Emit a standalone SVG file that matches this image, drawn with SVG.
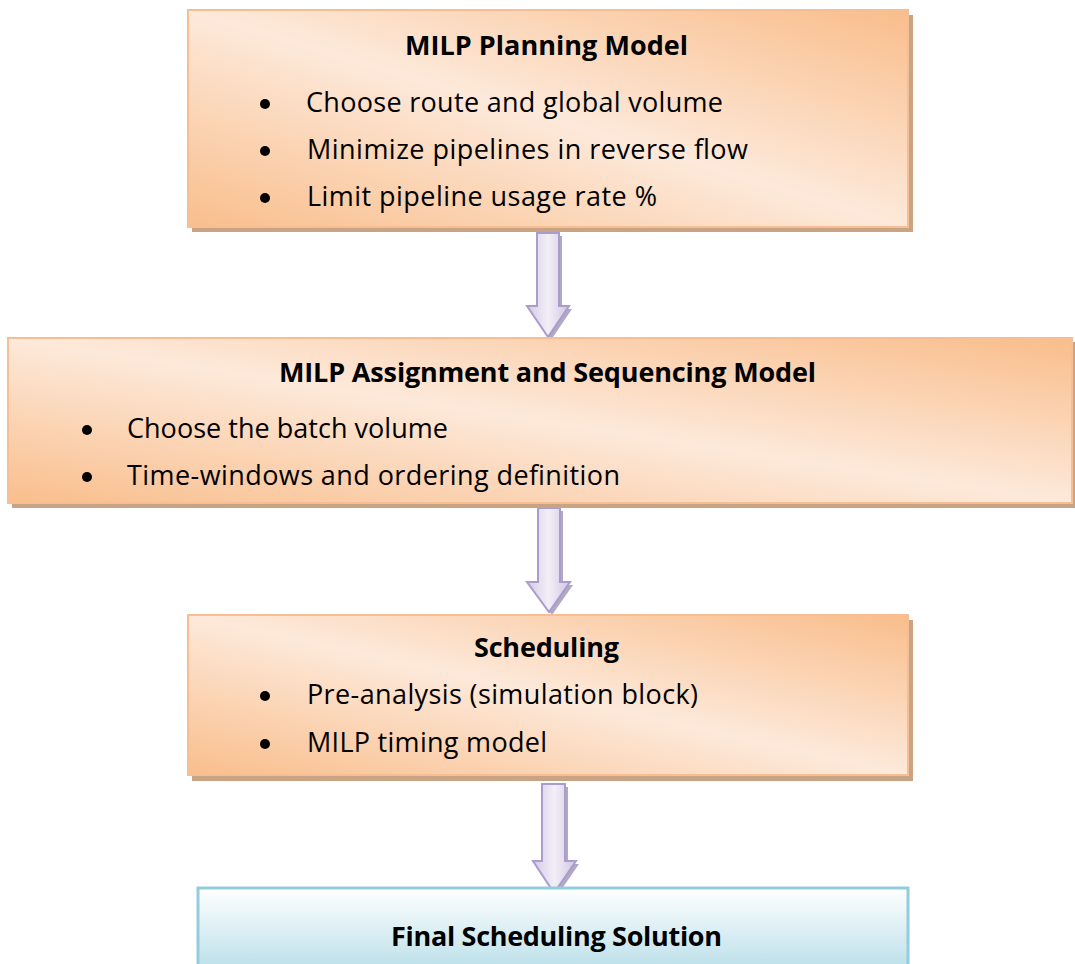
<svg xmlns="http://www.w3.org/2000/svg" width="1075" height="964" viewBox="0 0 1075 964">
  <defs>
    <linearGradient id="orange" x1="1" y1="0" x2="0" y2="1">
      <stop offset="0" stop-color="#F9BD8B"/>
      <stop offset="0.5" stop-color="#FDE9DA"/>
      <stop offset="1" stop-color="#F9BE8C"/>
    </linearGradient>
    <linearGradient id="cyan" x1="0" y1="0" x2="0" y2="1">
      <stop offset="0" stop-color="#FFFFFF"/>
      <stop offset="1" stop-color="#B4DCE7"/>
    </linearGradient>
    <linearGradient id="lav" x1="0" y1="0" x2="1" y2="0">
      <stop offset="0" stop-color="#D3CAE4"/>
      <stop offset="0.5" stop-color="#F2EFF7"/>
      <stop offset="1" stop-color="#D0C6E2"/>
    </linearGradient>
    <style>
      .box { fill: url(#orange); stroke: #F7BE93; stroke-width: 2; }
      .shadow { fill: #C8A384; }
      .final { fill: url(#cyan); stroke: #93CDDD; stroke-width: 3; }
      .title { font-family: "Open Sans", "Liberation Sans", sans-serif; font-weight: bold; font-size: 27px; fill: #000; }
      .item { font-family: "Open Sans", "Liberation Sans", sans-serif; font-size: 27px; fill: #000; }
      .dot { fill: #000; }
      .arrow { fill: url(#lav); stroke: #AA9CCC; stroke-width: 2; }
      .ashadow { fill: #9D93B4; opacity: 0.8; }
    </style>
  </defs>
  <rect width="1075" height="964" fill="#FFFFFF"/>

  <g id="connectors">
    <path class="ashadow" d="M540,236 H562 V309 H572 L551,340 L530,309 H540 Z"/>
    <path class="arrow" d="M537,233 H559 V306 H569 L548,337 L527,306 H537 Z"/>
    <path class="ashadow" d="M541,511 H563 V585 H573 L552,615 L530,585 H541 Z"/>
    <path class="arrow" d="M538,508 H560 V582 H570 L549,612 L527,582 H538 Z"/>
    <path class="ashadow" d="M545,787 H568 V864 H579 L557,896 L536,864 H545 Z"/>
    <path class="arrow" d="M542,784 H565 V861 H576 L554,893 L533,861 H542 Z"/>
  </g>

  <g id="planning">
    <rect class="shadow" x="192" y="15" width="721" height="217"/>
    <rect class="box" x="188" y="10" width="720" height="217"/>
    <text class="title" x="405" y="55" textLength="283">MILP Planning Model</text>
    <circle class="dot" cx="265" cy="104" r="5"/>
    <text class="item" x="306" y="112" textLength="417">Choose route and global volume</text>
    <circle class="dot" cx="265" cy="151" r="5"/>
    <text class="item" x="307" y="159" textLength="441">Minimize pipelines in reverse flow</text>
    <circle class="dot" cx="265" cy="198" r="5"/>
    <text class="item" x="307" y="206" textLength="350">Limit pipeline usage rate %</text>
  </g>

  <g id="assignment">
    <rect class="shadow" x="12" y="342" width="1063" height="166"/>
    <rect class="box" x="8" y="338" width="1064" height="165"/>
    <text class="title" x="279" y="382" textLength="537">MILP Assignment and Sequencing Model</text>
    <circle class="dot" cx="87" cy="430" r="5"/>
    <text class="item" x="127" y="438" textLength="321">Choose the batch volume</text>
    <circle class="dot" cx="87" cy="477" r="5"/>
    <text class="item" x="127" y="485" textLength="493">Time-windows and ordering definition</text>
  </g>

  <g id="scheduling">
    <rect class="shadow" x="192" y="620" width="721" height="161"/>
    <rect class="box" x="188" y="615" width="720" height="160"/>
    <text class="title" x="474" y="657" textLength="145">Scheduling</text>
    <circle class="dot" cx="265" cy="696" r="5"/>
    <text class="item" x="307" y="704" textLength="391">Pre-analysis (simulation block)</text>
    <circle class="dot" cx="265" cy="744" r="5"/>
    <text class="item" x="307" y="752" textLength="240">MILP timing model</text>
  </g>

  <g id="final">
    <rect class="final" x="198" y="888" width="710" height="90"/>
    <text class="title" x="391" y="946" textLength="331">Final Scheduling Solution</text>
  </g>
</svg>
